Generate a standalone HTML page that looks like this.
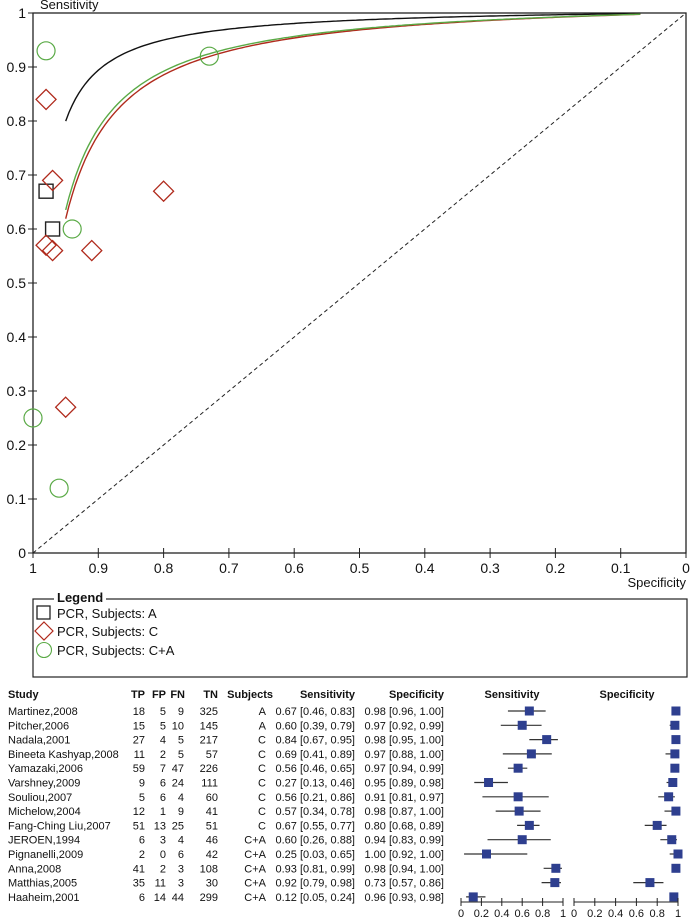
<!DOCTYPE html>
<html><head><meta charset="utf-8">
<style>
body{margin:0;background:#fff;}
svg{display:block;font-family:"Liberation Sans",Arial,sans-serif;}
</style></head>
<body>
<svg id="c" width="691" height="920" viewBox="0 0 691 920" xmlns="http://www.w3.org/2000/svg"></svg>
<script>
const studies=["Martinez,2008","Pitcher,2006","Nadala,2001","Bineeta Kashyap,2008","Yamazaki,2006","Varshney,2009","Souliou,2007","Michelow,2004","Fang-Ching Liu,2007","JEROEN,1994","Pignanelli,2009","Anna,2008","Matthias,2005","Haaheim,2001"];
const tp=[18,15,27,11,59,9,5,12,51,6,2,41,35,6];
const fp=[5,5,4,2,7,6,6,1,13,3,0,2,11,14];
const fn=[9,10,5,5,47,24,4,9,25,4,6,3,3,44];
const tn=[325,145,217,57,226,111,60,41,51,46,42,108,30,299];
const subjects=["A","A","C","C","C","C","C","C","C","C+A","C+A","C+A","C+A","C+A"];
const sens=[0.67,0.60,0.84,0.69,0.56,0.27,0.56,0.57,0.67,0.60,0.25,0.93,0.92,0.12];
const sensLo=[0.46,0.39,0.67,0.41,0.46,0.13,0.21,0.34,0.55,0.26,0.03,0.81,0.79,0.05];
const sensHi=[0.83,0.79,0.95,0.89,0.65,0.46,0.86,0.78,0.77,0.88,0.65,0.99,0.98,0.24];
const spec=[0.98,0.97,0.98,0.97,0.97,0.95,0.91,0.98,0.80,0.94,1.00,0.98,0.73,0.96];
const specLo=[0.96,0.92,0.95,0.88,0.94,0.89,0.81,0.87,0.68,0.83,0.92,0.94,0.57,0.93];
const specHi=[1.00,0.99,1.00,1.00,0.99,0.98,0.97,1.00,0.89,0.99,1.00,1.00,0.86,0.98];
const rocTicks=[0,0.1,0.2,0.3,0.4,0.5,0.6,0.7,0.8,0.9,1];
const forestTicks=[0,0.2,0.4,0.6,0.8,1];
const curveNames=["A","C","C+A"];
const curveD=[4.33,3.43,3.50];
const curveStart=[0.05,0.05,0.05];

const svg=document.getElementById('c');
const NS="http://www.w3.org/2000/svg";
function el(tag,attrs,parent){const e=document.createElementNS(NS,tag);for(const k in attrs)e.setAttribute(k,attrs[k]);(parent||svg).appendChild(e);return e;}
function txt(x,y,s,attrs,parent){const t=el('text',Object.assign({x:x,y:y,'font-size':12,fill:'#111'},attrs||{}),parent);t.textContent=s;return t;}
const fmt=v=>v.toFixed(2);
const fmtT=v=>String(v);

const X=s=>33+(1-s)*653;
const Y=v=>553-v*540;
const roc=el('g',{});


el('rect',{x:X(1),y:Y(1),width:X(0)-X(1),height:Y(0)-Y(1),fill:'none',stroke:'#222','stroke-width':1.3},roc);
el('line',{x1:X(1),y1:Y(0),x2:X(0),y2:Y(1),stroke:'#222','stroke-dasharray':'4,3','stroke-width':1},roc);
rocTicks.forEach(t=>{
  el('line',{x1:X(1)-5,y1:Y(t),x2:X(1)+4,y2:Y(t),stroke:'#222'},roc);
  const yl=txt(X(1)-7,Y(t)+5,fmtT(t),{'text-anchor':'end','font-size':14},roc);
  
  
  el('line',{x1:X(t),y1:Y(0)-5,x2:X(t),y2:Y(0)+5,stroke:'#222'},roc);
  const xl=txt(X(t),Y(0)+20,fmtT(t),{'text-anchor':'middle','font-size':14},roc);
  
  
});
const yt=txt(40,9,"Sensitivity",{'font-size':13},roc);


const xt=txt(686,587,"Specificity",{'font-size':13,'text-anchor':'end'},roc);



const colors={"A":"#111","C":"#b02a1c","C+A":"#5aaa46"};
curveNames.forEach((n,i)=>{
  let d="";
  for(let f=curveStart[i];f<=0.935;f+=0.005){
    const lf=Math.log(f/(1-f));const ls=lf+curveD[i];const s=1/(1+Math.exp(-ls));
    d+=(d?"L":"M")+X(1-f).toFixed(1)+","+Y(s).toFixed(1);
  }
  const p=el('path',{d:d,fill:'none',stroke:colors[n],'stroke-width':1.4},roc);
  
  
});
studies.forEach((s,i)=>{
  const cx=X(spec[i]),cy=Y(sens[i]),g=subjects[i];let m;
  if(g==="A") m=el('rect',{x:cx-7,y:cy-7,width:14,height:14,fill:'none',stroke:'#222','stroke-width':1.4},roc);
  else if(g==="C") m=el('path',{d:`M${cx},${cy-10}L${cx+10},${cy}L${cx},${cy+10}L${cx-10},${cy}Z`,fill:'none',stroke:colors.C,'stroke-width':1.3},roc);
  else m=el('circle',{cx:cx,cy:cy,r:9,fill:'none',stroke:colors["C+A"],'stroke-width':1.2},roc);
  
  
});

const lg=el('g',{});


el('rect',{x:33,y:599,width:654,height:78,fill:'none',stroke:'#222','stroke-width':1.2},lg);
el('rect',{x:54,y:588,width:52,height:16,fill:'#fff'},lg);
txt(57,602,"Legend",{'font-weight':'bold','font-size':13},lg);
el('rect',{x:37,y:606,width:13,height:13,fill:'none',stroke:'#222','stroke-width':1.3},lg);
el('path',{d:"M44,622L53,631L44,640L35,631Z",fill:'none',stroke:colors.C,'stroke-width':1.2},lg);
el('circle',{cx:44,cy:650,r:7.5,fill:'none',stroke:colors["C+A"],'stroke-width':1.1},lg);
[["PCR, Subjects: A",618],["PCR, Subjects: C",636],["PCR, Subjects: C+A",655]].forEach(a=>{
  const t=txt(57,a[1],a[0],{'font-size':13},lg);
  
  
});

const FS=11;
const tb=el('g',{});


const hy=698;
const hdr=[["Study",8,'start'],["TP",145,'end'],["FP",166,'end'],["FN",185,'end'],["TN",218,'end'],["Subjects",273,'end'],["Sensitivity",355,'end'],["Specificity",444,'end'],["Sensitivity",512,'middle'],["Specificity",627,'middle']];
hdr.forEach(h=>{const t=txt(h[1],hy,h[0],{'font-size':FS,'font-weight':'bold','text-anchor':h[2]},tb);
  
  });
const RY=i=>711+i*14.3;
const SX=v=>461+v*102;
const PX=v=>574+v*104;
studies.forEach((s,i)=>{
  const y=RY(i)+4;
  const row=el('g',{},tb);
  
  
  txt(8,y,s,{'font-size':FS},row);
  txt(145,y,tp[i],{'font-size':FS,'text-anchor':'end'},row);
  txt(166,y,fp[i],{'font-size':FS,'text-anchor':'end'},row);
  txt(184,y,fn[i],{'font-size':FS,'text-anchor':'end'},row);
  txt(218,y,tn[i],{'font-size':FS,'text-anchor':'end'},row);
  txt(266,y,subjects[i],{'font-size':FS,'text-anchor':'end'},row);
  txt(355,y,`${fmt(sens[i])} [${fmt(sensLo[i])}, ${fmt(sensHi[i])}]`,{'font-size':FS,'text-anchor':'end'},row);
  txt(444,y,`${fmt(spec[i])} [${fmt(specLo[i])}, ${fmt(specHi[i])}]`,{'font-size':FS,'text-anchor':'end'},row);
  el('line',{x1:SX(sensLo[i]),y1:RY(i),x2:SX(sensHi[i]),y2:RY(i),stroke:'#333','stroke-width':1.2},row);
  const b1=el('rect',{x:SX(sens[i])-4.5,y:RY(i)-4.5,width:9,height:9,fill:'#2e3f8f'},row);
  
  
  el('line',{x1:PX(specLo[i]),y1:RY(i),x2:PX(specHi[i]),y2:RY(i),stroke:'#333','stroke-width':1.2},row);
  const b2=el('rect',{x:PX(spec[i])-4.5,y:RY(i)-4.5,width:9,height:9,fill:'#2e3f8f'},row);
  
  
});
[[SX,'sensitivity-forest-axis'],[PX,'specificity-forest-axis']].forEach(a=>{
  const f=a[0];const g=el('g',{},tb);
  
  
  el('line',{x1:f(0),y1:902,x2:f(1),y2:902,stroke:'#222'},g);
  forestTicks.forEach(t=>{
    el('line',{x1:f(t),y1:898,x2:f(t),y2:906,stroke:'#222'},g);
    txt(f(t),917,fmtT(t),{'font-size':FS,'text-anchor':'middle'},g);
  });
});
</script>
</body></html>
